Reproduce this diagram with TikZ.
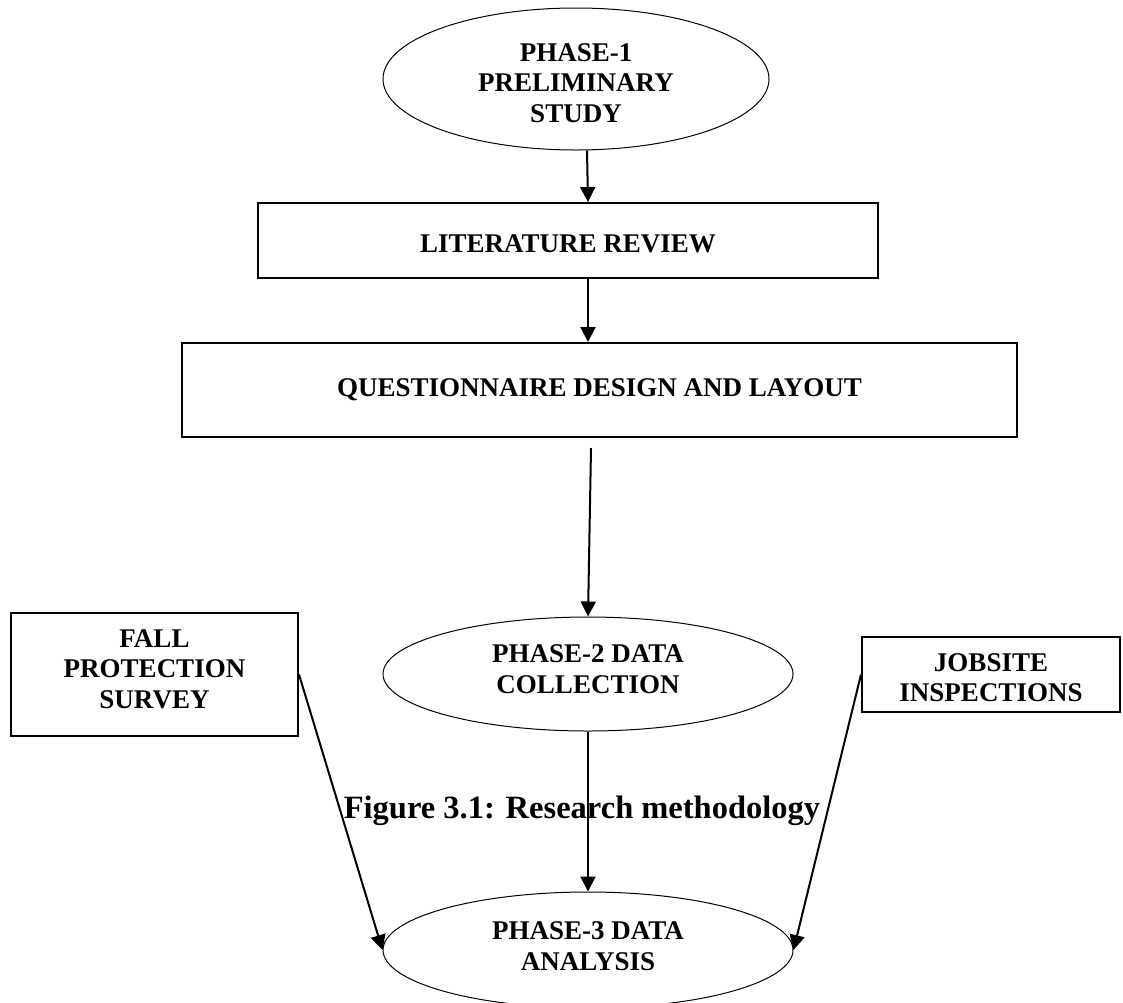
\documentclass[tikz,border=0pt]{standalone}
\usepackage{fontspec}
\setmainfont{Liberation Serif}
\usetikzlibrary{shapes.geometric,arrows.meta}
\tikzset{
  boxnode/.style={draw, line width=2pt, rectangle, inner sep=0pt},
  ellnode/.style={draw, line width=1pt, ellipse, inner sep=0pt},
  txt/.style={align=center, font=\bfseries\fontsize{27}{30.5}\selectfont, inner sep=0pt},
  arr/.style={line width=2pt, -{Triangle[length=15pt,width=15pt]}}
}
\begin{document}
\begin{tikzpicture}[x=1pt,y=-1pt]
\clip (0,0) rectangle (1123,1002);
\useasboundingbox (0,0) rectangle (1123,1002);
% ellipses
\node[ellnode, minimum width=386pt, minimum height=142pt] (e1) at (576,79) {};
\node[txt] (e1t) at (576,83) {PHASE-1\\PRELIMINARY\\STUDY};
\node[ellnode, minimum width=410pt, minimum height=114pt] (e2) at (588,674) {};
\node[txt] (e2t) at (588,669) {PHASE-2 DATA\\COLLECTION};
\node[ellnode, minimum width=410pt, minimum height=116pt] (e3) at (588,950) {};
\node[txt] (e3t) at (588,946) {PHASE-3 DATA\\ANALYSIS};
% boxes
\node[boxnode, minimum width=620pt, minimum height=75pt] (lit) at (568,240.5) {};
\node[txt] (litt) at (568,244) {LITERATURE REVIEW};
\node[boxnode, minimum width=835pt, minimum height=94pt] (q) at (599.5,390) {};
\node[txt] (qt) at (599.5,390) {QUESTIONNAIRE DESIGN AND LAYOUT};
\node[boxnode, minimum width=287pt, minimum height=123pt] (fall) at (154.5,674.5) {};
\node[txt] (fallt) at (154.5,669) {FALL\\PROTECTION\\SURVEY};
\node[boxnode, minimum width=258pt, minimum height=75pt] (job) at (991,674.5) {};
\node[txt] (jobt) at (991,677.5) {JOBSITE\\INSPECTIONS};
% caption
\node[anchor=base, inner sep=0pt, font=\bfseries\fontsize{32.5}{38}\selectfont] (cap) at (582,818) {Figure 3.1: Research methodology};
% arrows
\draw[arr] ([xshift=11pt]e1.south) -- ([xshift=20pt]lit.north);
\draw[arr] ([xshift=20pt]lit.south) -- ([xshift=-11.5pt]q.north);
\draw[arr] ([xshift=-8.5pt,yshift=-10pt]q.south) -- (e2.north);
\draw[arr] (e2.south) -- (e3.north);
\draw[arr] (fall.east) -- (e3.west);
\draw[arr] (job.west) -- (e3.east);
\end{tikzpicture}
\end{document}
